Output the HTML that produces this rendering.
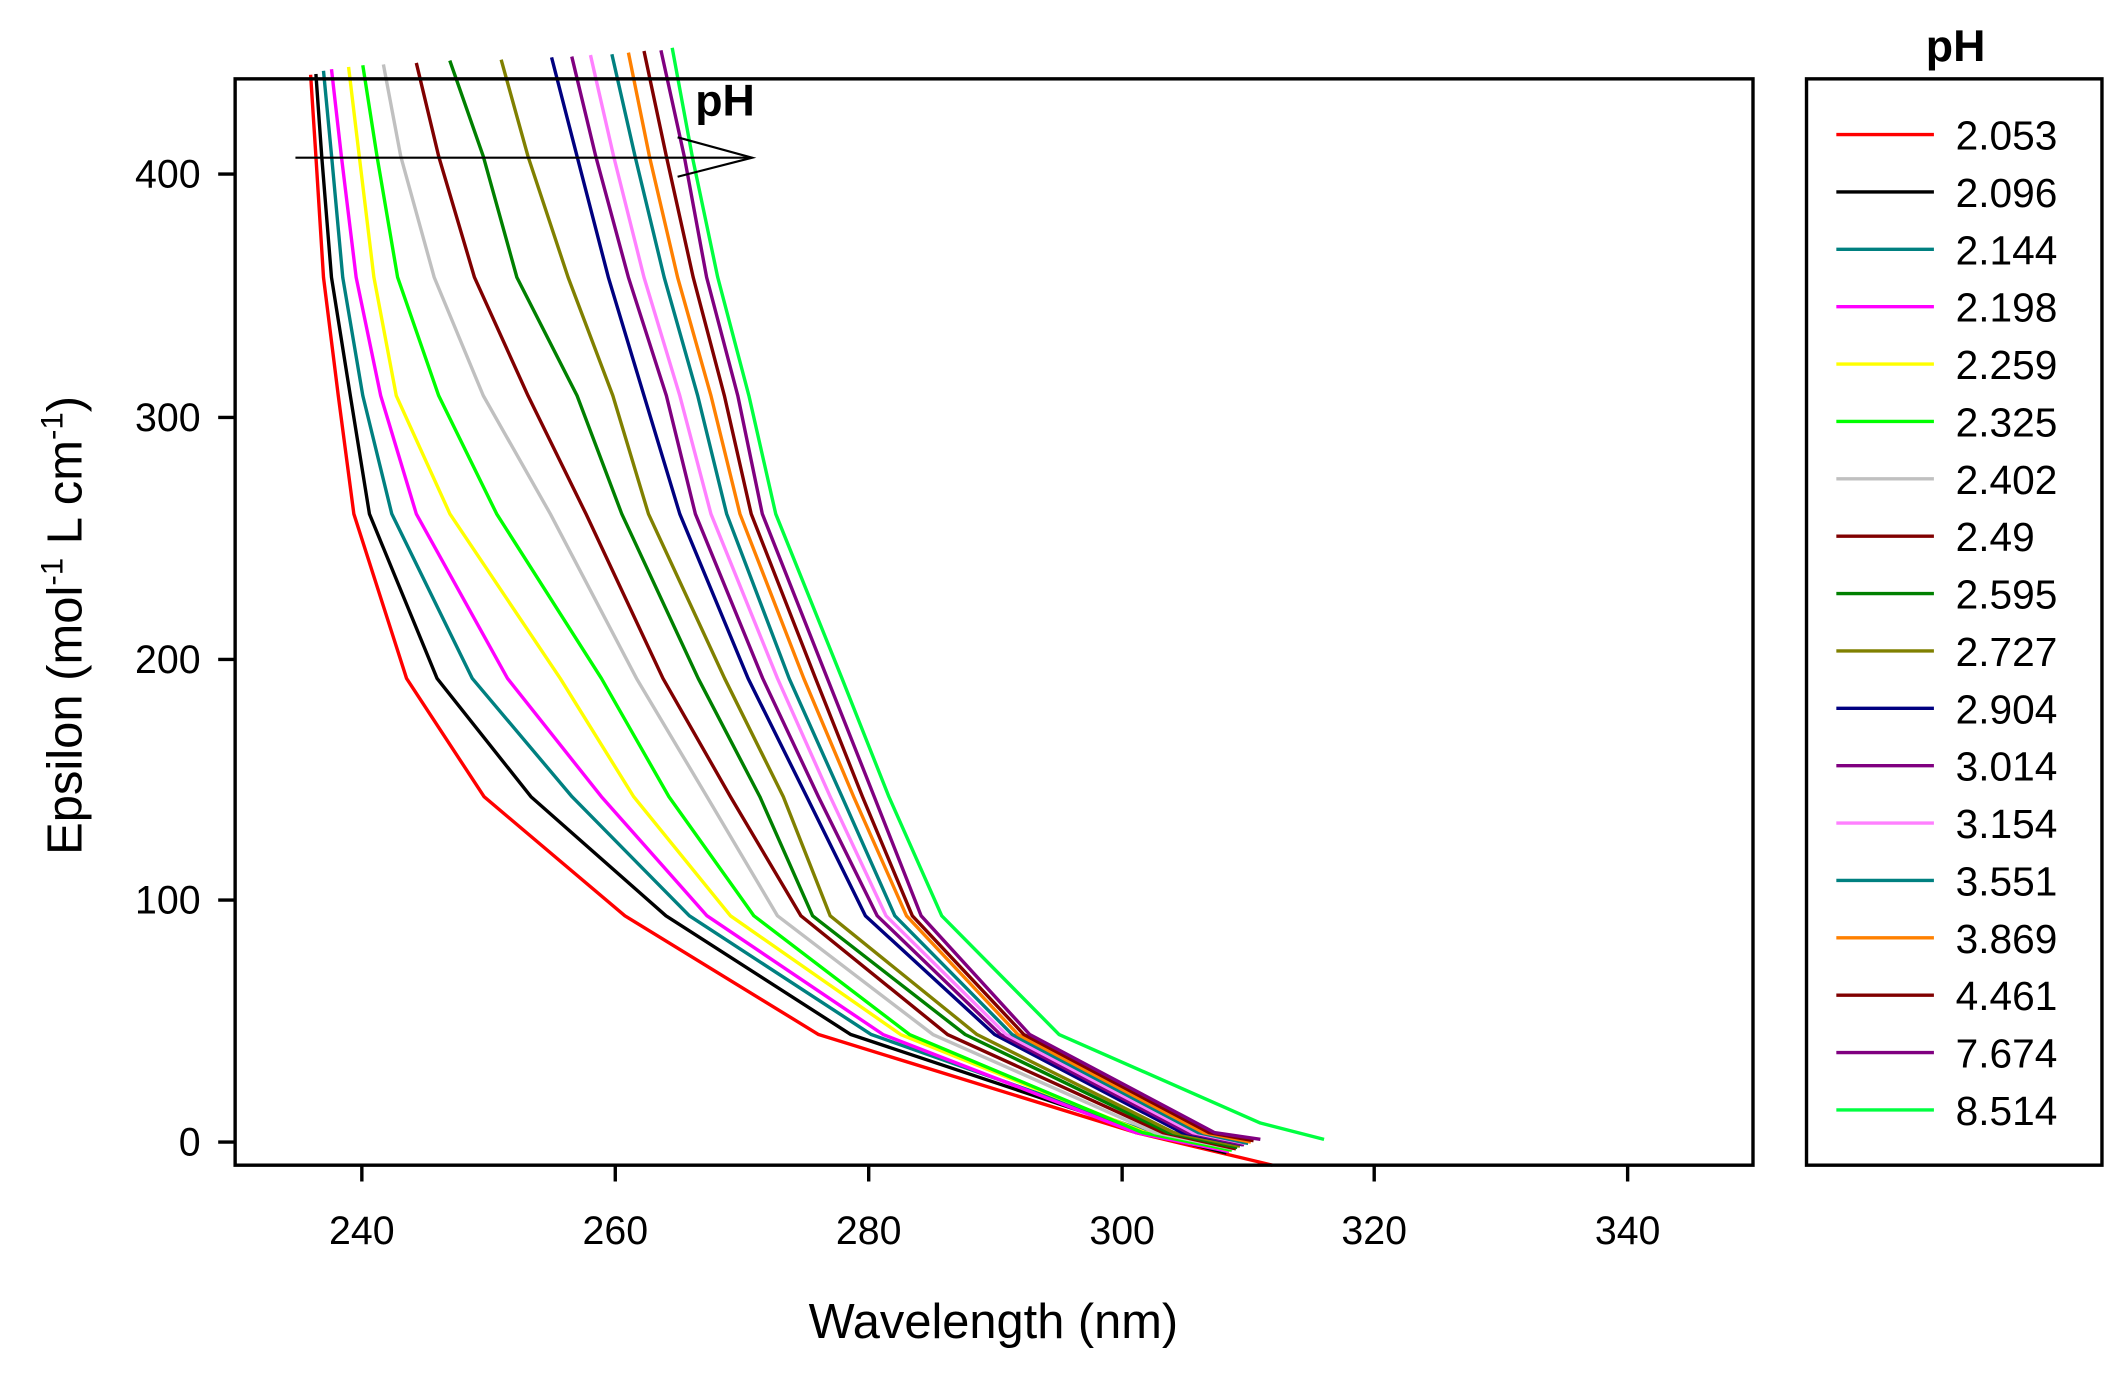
<!DOCTYPE html>
<html><head><meta charset="utf-8"><style>
html,body{margin:0;padding:0;background:#fff;}
svg{display:block;}
text{font-family:"Liberation Sans",Arial,sans-serif;fill:#000;}
</style></head><body>
<svg width="2125" height="1380" viewBox="0 0 1568 1015" preserveAspectRatio="none" xmlns="http://www.w3.org/2000/svg">
<g fill="none" stroke-width="2.5" stroke-linejoin="round">
<polyline stroke="#ff0000" points="229.2,55 233.1,115 238.7,204 249.6,291 261.1,378 300,499 357.2,586 461.1,673.6 604,760.9 838,833 939,857"/>
<polyline stroke="#000000" points="233.1,54.4 237.4,115 244.6,204 258.5,291 272.6,378 322.5,499 391.8,586 491.4,673.6 627.8,760.9 845,833 905,848"/>
<polyline stroke="#008080" points="238.7,52.1 244.7,115 252.9,204 267.7,291 289.1,378 348.5,499 422.1,586 508.7,673.6 642.9,760.9 848,833 906,847"/>
<polyline stroke="#ff00ff" points="244.6,50.9 251.9,115 262.8,204 280.9,291 307.2,378 374.5,499 443.8,586 521.7,673.6 651.6,760.9 838,833 907,847"/>
<polyline stroke="#ffff00" points="257.2,49.2 265.1,115 275.9,204 292.4,291 332,378 413.4,499 467.6,586 539,673.6 664.6,760.9 845,833 908,846"/>
<polyline stroke="#00ff00" points="267.7,48 278.2,115 293.4,204 323.7,291 366.5,378 443.8,499 493.6,586 556.3,673.6 671.1,760.9 843,833 909,846"/>
<polyline stroke="#c0c0c0" points="282.9,47.4 295.7,115 320.4,204 356.6,291 406.1,378 469.7,499 521.7,586 573.7,673.6 688.4,760.9 852,833 910,845"/>
<polyline stroke="#800000" points="307.2,46.3 323.7,115 350.1,204 389.6,291 432.4,378 489.2,499 539,586 591,673.6 699.2,760.9 858,833 912,845"/>
<polyline stroke="#008000" points="331.9,44.5 356.6,115 381.4,204 425.8,291 458.8,378 515.2,499 560.7,586 599.6,673.6 712.2,760.9 862,833 913,844"/>
<polyline stroke="#808000" points="369.8,43.9 389.6,115 419.2,204 452.2,291 478.5,378 534.7,499 578,586 612.6,673.6 720.9,760.9 866,833 915,843"/>
<polyline stroke="#000080" points="407,42.2 425.8,115 448.9,204 475.2,291 501.6,378 552,499 595.3,586 638.6,673.6 733.9,760.9 872,833 917,842"/>
<polyline stroke="#800080" points="421.9,41.6 439.6,115 463.7,204 491.7,291 513.1,378 562.8,499 603.9,586 647.3,673.6 738.2,760.9 876,833 918,842"/>
<polyline stroke="#ff80ff" points="435.7,40.5 452.8,115 475.2,204 501.6,291 524.6,378 573.7,499 612.6,586 653.8,673.6 742.5,760.9 880,833 919,841"/>
<polyline stroke="#008080" points="451.5,39.9 468.6,115 490.1,204 514.8,291 536.2,378 582.3,499 621.3,586 660.3,673.6 746.9,760.9 884,833 921,841"/>
<polyline stroke="#ff8000" points="463.7,38.7 479.2,115 500,204 524.6,291 546,378 593.1,499 629.9,586 668.9,673.6 751.2,760.9 888,833 923,840"/>
<polyline stroke="#800000" points="475.2,37.5 491.7,115 511.5,204 534.5,291 554.3,378 601.8,499 636.4,586 673.2,673.6 755.5,760.9 892,833 925,839"/>
<polyline stroke="#800080" points="487.7,37 504.9,115 521.4,204 544.4,291 562.5,378 610.5,499 645.1,586 679.7,673.6 759.8,760.9 896,833 930,838"/>
<polyline stroke="#00ff40" points="496,35.2 510.8,115 529.6,204 552.6,291 572.4,378 621.3,499 655.9,586 694.9,673.6 781.5,760.9 930,826 977,838"/>
</g>
<rect x="173.5" y="58" width="1120" height="799" fill="none" stroke="#000" stroke-width="2.5"/>
<g stroke="#000" stroke-width="2.5">
<line x1="267" y1="857" x2="267" y2="869"/><line x1="454" y1="857" x2="454" y2="869"/>
<line x1="641" y1="857" x2="641" y2="869"/><line x1="828" y1="857" x2="828" y2="869"/>
<line x1="1014" y1="857" x2="1014" y2="869"/><line x1="1201" y1="857" x2="1201" y2="869"/>
<line x1="161" y1="128" x2="173" y2="128"/><line x1="161" y1="307" x2="173" y2="307"/>
<line x1="161" y1="485" x2="173" y2="485"/><line x1="161" y1="662" x2="173" y2="662"/>
<line x1="161" y1="840" x2="173" y2="840"/>
</g>
<g font-size="29" text-anchor="middle">
<text x="267" y="915">240</text><text x="454" y="915">260</text><text x="641" y="915">280</text>
<text x="828" y="915">300</text><text x="1014" y="915">320</text><text x="1201" y="915">340</text>
</g>
<g font-size="29" text-anchor="end">
<text x="148" y="138">400</text><text x="148" y="317">300</text><text x="148" y="495">200</text>
<text x="148" y="672">100</text><text x="148" y="850">0</text>
</g>
<text x="733" y="984" font-size="36" text-anchor="middle">Wavelength (nm)</text>
<text transform="translate(60,460) rotate(-90)" font-size="36" text-anchor="middle">Epsilon (mol<tspan dy="-14" font-size="23">-1</tspan><tspan dy="14"> L cm</tspan><tspan dy="-14" font-size="23">-1</tspan><tspan dy="14">)</tspan></text>
<g stroke="#000" stroke-width="1.6" fill="none">
<line x1="218" y1="116" x2="555" y2="116"/>
<polyline points="500,101 555,116 500,130"/>
</g>
<text x="513" y="85" font-size="33" font-weight="bold">pH</text>
<rect x="1333" y="58" width="218" height="799" fill="none" stroke="#000" stroke-width="2.5"/>
<text x="1443" y="45" font-size="33" font-weight="bold" text-anchor="middle">pH</text>
<g stroke-width="2.5">
<line x1="1355" x2="1427" y1="99" y2="99" stroke="#ff0000"/>
<line x1="1355" x2="1427" y1="141.2" y2="141.2" stroke="#000000"/>
<line x1="1355" x2="1427" y1="183.4" y2="183.4" stroke="#008080"/>
<line x1="1355" x2="1427" y1="225.6" y2="225.6" stroke="#ff00ff"/>
<line x1="1355" x2="1427" y1="267.8" y2="267.8" stroke="#ffff00"/>
<line x1="1355" x2="1427" y1="310" y2="310" stroke="#00ff00"/>
<line x1="1355" x2="1427" y1="352.2" y2="352.2" stroke="#c0c0c0"/>
<line x1="1355" x2="1427" y1="394.4" y2="394.4" stroke="#800000"/>
<line x1="1355" x2="1427" y1="436.6" y2="436.6" stroke="#008000"/>
<line x1="1355" x2="1427" y1="478.8" y2="478.8" stroke="#808000"/>
<line x1="1355" x2="1427" y1="521" y2="521" stroke="#000080"/>
<line x1="1355" x2="1427" y1="563.2" y2="563.2" stroke="#800080"/>
<line x1="1355" x2="1427" y1="605.4" y2="605.4" stroke="#ff80ff"/>
<line x1="1355" x2="1427" y1="647.6" y2="647.6" stroke="#008080"/>
<line x1="1355" x2="1427" y1="689.8" y2="689.8" stroke="#ff8000"/>
<line x1="1355" x2="1427" y1="732" y2="732" stroke="#800000"/>
<line x1="1355" x2="1427" y1="774.2" y2="774.2" stroke="#800080"/>
<line x1="1355" x2="1427" y1="816.4" y2="816.4" stroke="#00ff40"/>
</g>
<g font-size="30">
<text x="1443" y="110">2.053</text><text x="1443" y="152.2">2.096</text><text x="1443" y="194.4">2.144</text>
<text x="1443" y="236.6">2.198</text><text x="1443" y="278.8">2.259</text><text x="1443" y="321">2.325</text>
<text x="1443" y="363.2">2.402</text><text x="1443" y="405.4">2.49</text><text x="1443" y="447.6">2.595</text>
<text x="1443" y="489.8">2.727</text><text x="1443" y="532">2.904</text><text x="1443" y="574.2">3.014</text>
<text x="1443" y="616.4">3.154</text><text x="1443" y="658.6">3.551</text><text x="1443" y="700.8">3.869</text>
<text x="1443" y="743">4.461</text><text x="1443" y="785.2">7.674</text><text x="1443" y="827.4">8.514</text>
</g>
</svg>
</body></html>
